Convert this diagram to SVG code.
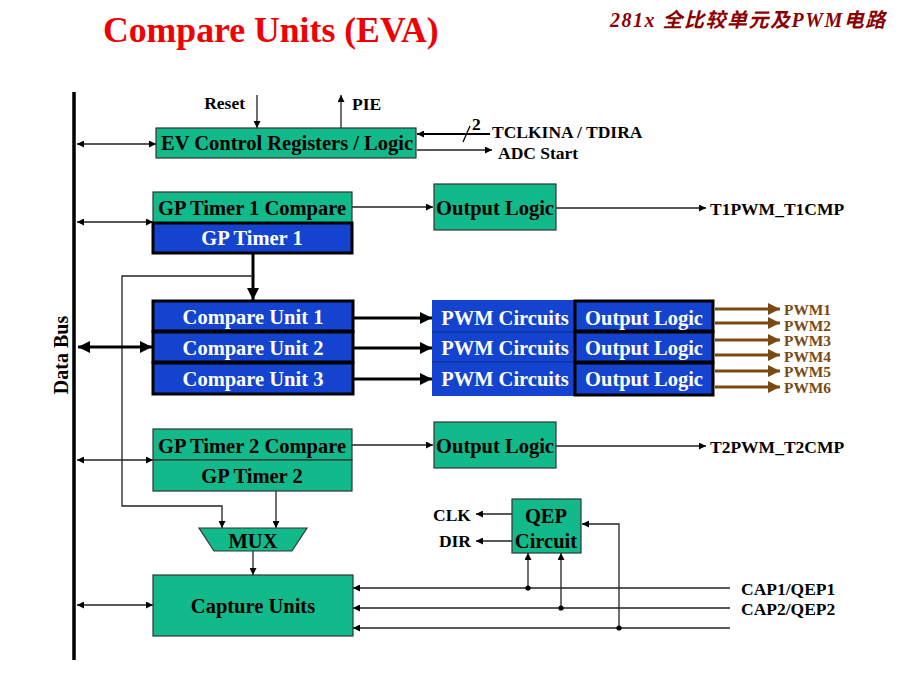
<svg xmlns="http://www.w3.org/2000/svg" width="920" height="690" viewBox="0 0 920 690">
<defs>
<style>
.t{font-family:"Liberation Serif","Times New Roman",serif;font-weight:bold}
.g{fill:#12B98A;stroke:#333;stroke-width:1.2}
.b{fill:#1444CF;stroke:#000;stroke-width:3}
.bl{font-size:20.5px;fill:#000;text-anchor:middle}
.wl{font-size:20.5px;fill:#fff;text-anchor:middle}
.lab{font-size:17.5px;fill:#000}
.pw{font-size:15.4px;fill:#7A4A12}
.ln{stroke:#222;stroke-width:1.3;fill:none}
.th{stroke:#000;stroke-width:3;fill:none}
.br{stroke:#7A4A12;stroke-width:3;fill:none}
</style>
<marker id="a" viewBox="0 0 10 10" refX="10" refY="5" markerWidth="7" markerHeight="7" orient="auto-start-reverse" markerUnits="userSpaceOnUse"><path d="M0,0 L10,5 L0,10 z" fill="#000"/></marker>
<marker id="at" viewBox="0 0 10 10" refX="10" refY="5" markerWidth="12" markerHeight="12" orient="auto-start-reverse" markerUnits="userSpaceOnUse"><path d="M0,0 L10,5 L0,10 z" fill="#000"/></marker>
<marker id="ab" viewBox="0 0 10 10" refX="10" refY="5" markerWidth="12" markerHeight="12" orient="auto" markerUnits="userSpaceOnUse"><path d="M0,0 L10,5 L0,10 z" fill="#7A4A12"/></marker>
</defs>
<rect width="920" height="690" fill="#fff"/>
<text class="t" x="103" y="42" font-size="35.7" fill="#F00000">Compare Units (EVA)</text>
<text x="610" y="27" font-size="20" font-style="italic" font-weight="bold" letter-spacing="1.5" fill="#8B0000" font-family="'Liberation Serif','Noto Sans CJK SC',serif">281x 全比较单元及PWM电路</text>

<g id="databus">
<line x1="74" y1="92" x2="74" y2="660" stroke="#000" stroke-width="3.5"/>
<text class="t" font-size="20" transform="translate(68,355) rotate(-90)" text-anchor="middle">Data Bus</text>
</g>

<g id="connectors">
<line class="ln" x1="77" y1="144" x2="156" y2="144" marker-start="url(#a)" marker-end="url(#a)"/>
<line class="ln" x1="257" y1="95" x2="257" y2="128" marker-end="url(#a)"/>
<line class="ln" x1="341" y1="128" x2="341" y2="95" marker-end="url(#a)"/>
<line stroke="#000" stroke-width="2.2" x1="490" y1="134" x2="417" y2="134" marker-end="url(#a)"/>
<line stroke="#000" stroke-width="1.3" x1="463" y1="142" x2="470" y2="126"/>
<line class="ln" x1="417" y1="150" x2="492" y2="150" marker-end="url(#a)"/>
<line class="ln" x1="77" y1="222" x2="153" y2="222" marker-start="url(#a)" marker-end="url(#a)"/>
<line class="ln" x1="352" y1="207" x2="433" y2="207" marker-end="url(#a)"/>
<line class="ln" x1="556" y1="208" x2="706" y2="208" marker-end="url(#a)"/>
<line class="th" x1="253" y1="254" x2="253" y2="300" marker-end="url(#at)"/>
<polyline class="ln" points="253,276 122,276 122,506 222,506 222,528" marker-end="url(#a)"/>
<line class="th" x1="78" y1="347" x2="152" y2="347" marker-start="url(#at)" marker-end="url(#at)"/>
<line class="th" x1="354" y1="318" x2="432" y2="318" marker-end="url(#at)"/>
<line class="th" x1="354" y1="348" x2="432" y2="348" marker-end="url(#at)"/>
<line class="th" x1="354" y1="379" x2="432" y2="379" marker-end="url(#at)"/>
<line class="br" x1="715" y1="309" x2="780" y2="309" marker-end="url(#ab)"/>
<line class="br" x1="715" y1="323" x2="780" y2="323" marker-end="url(#ab)"/>
<line class="br" x1="715" y1="340" x2="780" y2="340" marker-end="url(#ab)"/>
<line class="br" x1="715" y1="355" x2="780" y2="355" marker-end="url(#ab)"/>
<line class="br" x1="715" y1="371" x2="780" y2="371" marker-end="url(#ab)"/>
<line class="br" x1="715" y1="387" x2="780" y2="387" marker-end="url(#ab)"/>
<line class="ln" x1="77" y1="460" x2="153" y2="460" marker-start="url(#a)" marker-end="url(#a)"/>
<line class="ln" x1="352" y1="445" x2="433" y2="445" marker-end="url(#a)"/>
<line class="ln" x1="556" y1="446" x2="706" y2="446" marker-end="url(#a)"/>
<line class="ln" x1="276" y1="491" x2="276" y2="528" marker-end="url(#a)"/>
<line class="ln" x1="253" y1="551" x2="253" y2="575" marker-end="url(#a)"/>
<line class="ln" x1="77" y1="605" x2="153" y2="605" marker-start="url(#a)" marker-end="url(#a)"/>
<line class="ln" x1="730" y1="588" x2="353" y2="588" marker-end="url(#a)"/>
<line class="ln" x1="730" y1="608" x2="353" y2="608" marker-end="url(#a)"/>
<line class="ln" x1="730" y1="628" x2="353" y2="628" marker-end="url(#a)"/>
<line class="ln" x1="512" y1="514" x2="476" y2="514" marker-end="url(#a)"/>
<line class="ln" x1="512" y1="541" x2="476" y2="541" marker-end="url(#a)"/>
<line class="ln" x1="528" y1="588" x2="528" y2="553" marker-end="url(#a)"/>
<line class="ln" x1="561" y1="608" x2="561" y2="553" marker-end="url(#a)"/>
<polyline class="ln" points="619,628 619,524 582,524" marker-end="url(#a)"/>
<circle cx="528" cy="588" r="2.6" fill="#000"/>
<circle cx="561" cy="608" r="2.6" fill="#000"/>
<circle cx="619" cy="628" r="2.6" fill="#000"/>
</g>

<g id="labels">
<text class="t lab" x="245" y="109" text-anchor="end">Reset</text>
<text class="t lab" x="352" y="110">PIE</text>
<text class="t lab" x="472" y="130">2</text>
<text class="t lab" x="492" y="138">TCLKINA / TDIRA</text>
<text class="t lab" x="498" y="158.5">ADC Start</text>
<text class="t lab" x="710" y="215">T1PWM_T1CMP</text>
<text class="t lab" x="710" y="453">T2PWM_T2CMP</text>
<text class="t pw" x="784" y="315">PWM1</text>
<text class="t pw" x="784" y="330.5">PWM2</text>
<text class="t pw" x="784" y="346">PWM3</text>
<text class="t pw" x="784" y="361.5">PWM4</text>
<text class="t pw" x="784" y="377">PWM5</text>
<text class="t pw" x="784" y="392.5">PWM6</text>
<text class="t lab" x="471" y="521" text-anchor="end">CLK</text>
<text class="t lab" x="471" y="547" text-anchor="end">DIR</text>
<text class="t lab" x="741" y="595">CAP1/QEP1</text>
<text class="t lab" x="741" y="615">CAP2/QEP2</text>
</g>

<g id="ev-control">
<rect class="g" x="156" y="128" width="260" height="30"/>
<text class="t bl" x="287" y="150">EV Control Registers / Logic</text>
</g>
<g id="gp-timer1-compare">
<rect class="g" x="153" y="192" width="199" height="31"/>
<text class="t bl" x="252" y="215">GP Timer 1 Compare</text>
</g>
<g id="gp-timer1">
<rect class="b" x="153" y="223" width="199" height="30"/>
<text class="t wl" x="252" y="245">GP Timer 1</text>
</g>
<g id="output-logic-1">
<rect class="g" x="434" y="184" width="122" height="46"/>
<text class="t bl" x="495" y="215">Output Logic</text>
</g>
<g id="compare-units">
<rect class="b" x="153" y="301" width="200" height="30"/>
<text class="t wl" x="253" y="324">Compare Unit 1</text>
<rect class="b" x="153" y="332" width="200" height="30"/>
<text class="t wl" x="253" y="355">Compare Unit 2</text>
<rect class="b" x="153" y="363" width="200" height="31"/>
<text class="t wl" x="253" y="386">Compare Unit 3</text>
</g>
<g id="pwm-circuits">
<rect x="432" y="300" width="142" height="96" fill="#1444CF"/>
<line x1="432" y1="332" x2="574" y2="332" stroke="#0A2A8A" stroke-width="1"/>
<line x1="432" y1="362" x2="574" y2="362" stroke="#0A2A8A" stroke-width="1"/>
<text class="t wl" x="505" y="325">PWM Circuits</text>
<text class="t wl" x="505" y="355">PWM Circuits</text>
<text class="t wl" x="505" y="386">PWM Circuits</text>
</g>
<g id="output-logic-pwm">
<rect class="b" x="575" y="301" width="138" height="30"/>
<text class="t wl" x="644" y="325">Output Logic</text>
<rect class="b" x="575" y="332" width="138" height="30"/>
<text class="t wl" x="644" y="355">Output Logic</text>
<rect class="b" x="575" y="363" width="138" height="32"/>
<text class="t wl" x="644" y="386">Output Logic</text>
</g>
<g id="gp-timer2-compare">
<rect class="g" x="153" y="429" width="199" height="31"/>
<text class="t bl" x="252" y="453">GP Timer 2 Compare</text>
</g>
<g id="gp-timer2">
<rect class="g" x="153" y="460" width="199" height="31"/>
<text class="t bl" x="252" y="483">GP Timer 2</text>
</g>
<g id="output-logic-2">
<rect class="g" x="434" y="422" width="122" height="46"/>
<text class="t bl" x="495" y="453">Output Logic</text>
</g>
<g id="mux">
<polygon class="g" points="199,528 307,528 292,551 214,551"/>
<text class="t bl" x="253" y="548">MUX</text>
</g>
<g id="capture-units">
<rect class="g" x="153" y="575" width="200" height="61"/>
<text class="t bl" x="253" y="613">Capture Units</text>
</g>
<g id="qep">
<rect class="g" x="512" y="499" width="69" height="54"/>
<text class="t bl" x="546" y="523">QEP</text>
<text class="t bl" x="546" y="548">Circuit</text>
</g>
</svg>
